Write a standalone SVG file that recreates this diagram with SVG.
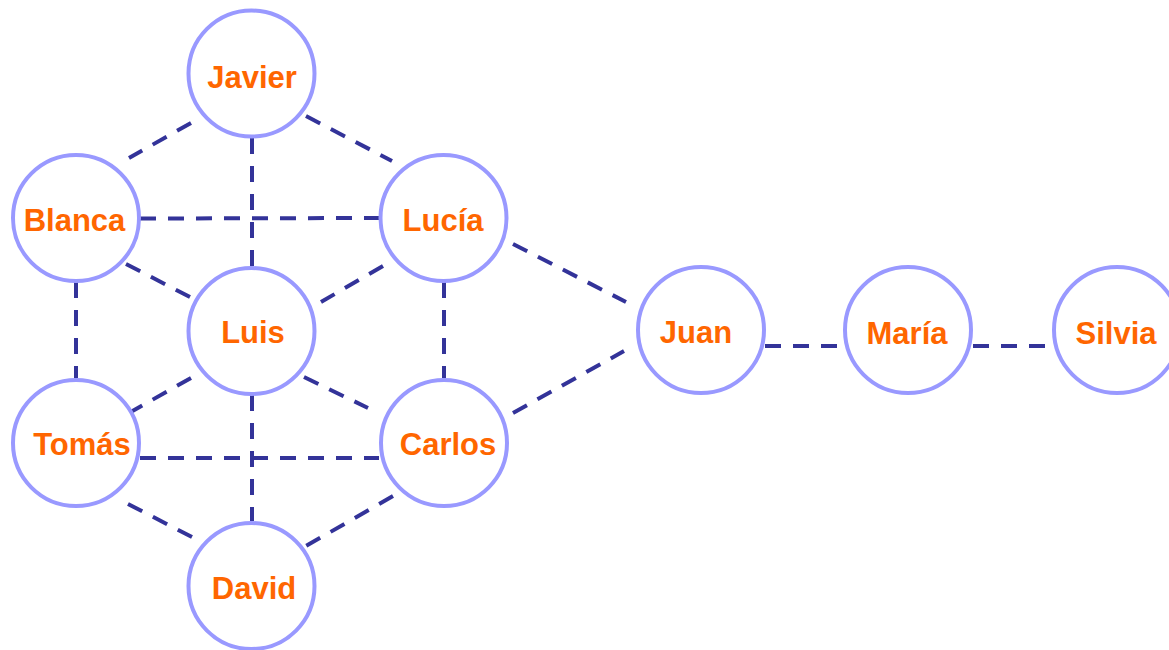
<svg xmlns="http://www.w3.org/2000/svg" width="1169" height="650" viewBox="0 0 1169 650">
<style>
.edge{stroke:#333399;stroke-width:4;stroke-dasharray:16 12;fill:none}
.node circle{fill:#ffffff;stroke:#9999FF;stroke-width:4}
.node text{font-family:"Liberation Sans",Arial,sans-serif;font-weight:bold;font-size:31px;fill:#FF6600;text-anchor:middle}
</style>
<rect width="1169" height="650" fill="#ffffff"/>
<g id="connectors">
<line class="edge" x1="191" y1="123" x2="129" y2="158"/>
<line class="edge" x1="306" y1="116" x2="392" y2="161"/>
<line class="edge" x1="252" y1="138" x2="252" y2="266"/>
<line class="edge" x1="140" y1="218.5" x2="379" y2="218"/>
<line class="edge" x1="126" y1="264" x2="190" y2="297"/>
<line class="edge" x1="383" y1="266" x2="321" y2="302"/>
<line class="edge" x1="76" y1="282" x2="76" y2="378"/>
<line class="edge" x1="444" y1="282" x2="444" y2="378"/>
<line class="edge" x1="513" y1="244" x2="626" y2="302"/>
<line class="edge" x1="191" y1="378" x2="129" y2="413"/>
<line class="edge" x1="304" y1="377" x2="368" y2="408"/>
<line class="edge" x1="252" y1="395" x2="252" y2="521"/>
<line class="edge" x1="140" y1="458" x2="379" y2="458"/>
<line class="edge" x1="513" y1="413" x2="624" y2="351"/>
<line class="edge" x1="128" y1="504" x2="192" y2="537"/>
<line class="edge" x1="393" y1="496" x2="306" y2="546"/>
<line class="edge" x1="765" y1="346" x2="843" y2="346"/>
<line class="edge" x1="973" y1="346" x2="1052" y2="346"/>
</g>
<g id="javier" class="node"><circle cx="251.5" cy="73.5" r="63"/><text x="252" y="88">Javier</text></g>
<g id="blanca" class="node"><circle cx="76" cy="218" r="63"/><text x="74.5" y="231">Blanca</text></g>
<g id="lucia" class="node"><circle cx="443.5" cy="218" r="63"/><text x="443" y="231">Lucía</text></g>
<g id="luis" class="node"><circle cx="251.5" cy="331" r="63"/><text x="253" y="343">Luis</text></g>
<g id="tomas" class="node"><circle cx="76" cy="443" r="63"/><text x="82" y="455">Tomás</text></g>
<g id="carlos" class="node"><circle cx="444" cy="443" r="63"/><text x="448" y="455">Carlos</text></g>
<g id="david" class="node"><circle cx="251.5" cy="586" r="63"/><text x="254" y="599">David</text></g>
<g id="juan" class="node"><circle cx="701" cy="330" r="63"/><text x="696" y="343">Juan</text></g>
<g id="maria" class="node"><circle cx="908" cy="330" r="63"/><text x="907" y="344">María</text></g>
<g id="silvia" class="node"><circle cx="1117" cy="330" r="63"/><text x="1116" y="344">Silvia</text></g>
</svg>
